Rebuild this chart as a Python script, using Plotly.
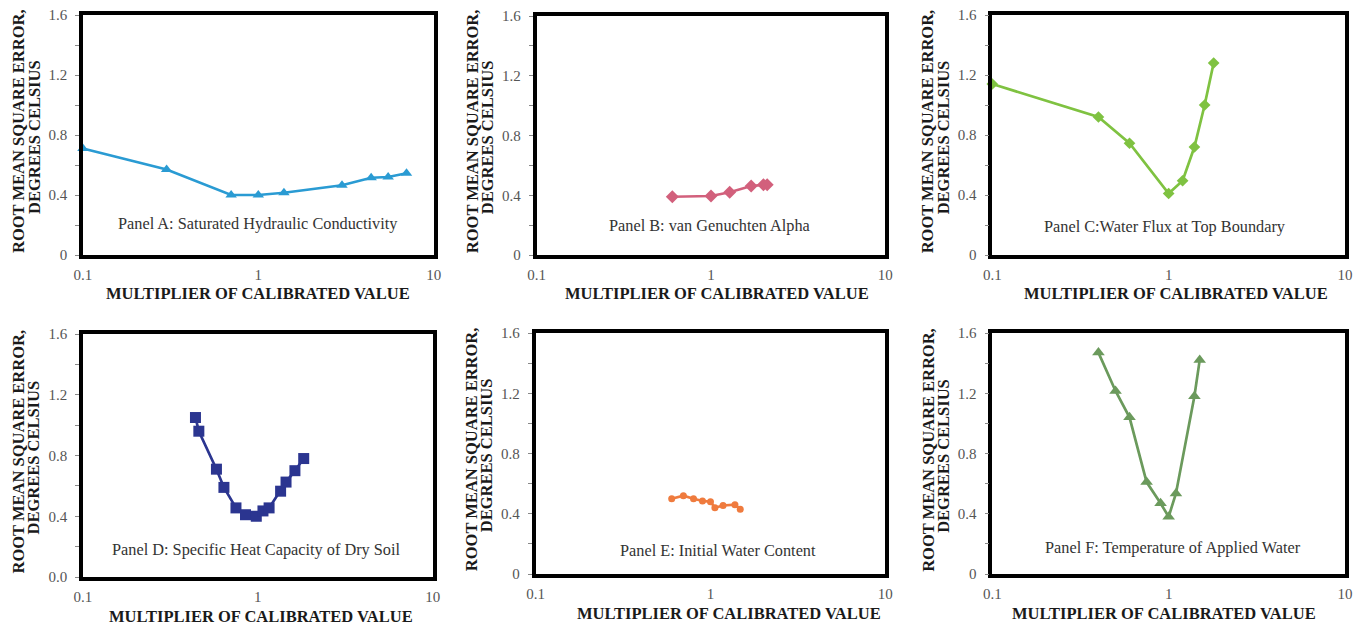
import plotly.graph_objects as go

W, H = 1362, 626
# the photographed page is shown inside an 8 px inset; positions below are
# given in picture pixels and converted to paper fractions with fx / fy
INSET = 8
VW, VH = W - 2 * INSET, H - 2 * INSET

# ---- data ----
a_x = [0.1, 0.3, 0.7, 1.0, 1.4, 3.0, 4.4, 5.5, 7.0]
a_y = [0.71, 0.57, 0.40, 0.40, 0.415, 0.465, 0.515, 0.52, 0.545]

b_x = [0.6, 1.0, 1.28, 1.7, 2.0, 2.1]
b_y = [0.39, 0.395, 0.42, 0.462, 0.47, 0.47]

c_x = [0.1, 0.4, 0.6, 1.0, 1.2, 1.4, 1.6, 1.8]
c_y = [1.14, 0.92, 0.745, 0.41, 0.495, 0.72, 1.0, 1.28]

d_x = [0.44, 0.46, 0.58, 0.64, 0.75, 0.85, 0.98, 1.07, 1.16, 1.35, 1.45, 1.63, 1.83]
d_y = [1.05, 0.96, 0.71, 0.59, 0.455, 0.41, 0.40, 0.435, 0.455, 0.565, 0.625, 0.70, 0.78]

e_x = [0.6, 0.7, 0.8, 0.9, 1.0, 1.06, 1.18, 1.38, 1.48]
e_y = [0.50, 0.52, 0.50, 0.485, 0.48, 0.44, 0.455, 0.46, 0.43]

f_x = [0.4, 0.5, 0.6, 0.75, 0.9, 1.0, 1.1, 1.4, 1.5]
f_y = [1.47, 1.215, 1.04, 0.61, 0.47, 0.38, 0.535, 1.18, 1.42]

panel_labels = [
    "Panel A: Saturated Hydraulic Conductivity",
    "Panel B: van Genuchten Alpha",
    "Panel C:Water Flux at Top Boundary",
    "Panel D: Specific Heat Capacity of Dry Soil",
    "Panel E: Initial Water Content",
    "Panel F: Temperature of Applied Water",
]
x_title = "MULTIPLIER OF CALIBRATED VALUE"
y_title_1 = "ROOT MEAN SQUARE ERROR,"
y_title_2 = "DEGREES CELSIUS"
x_ticks = [0.1, 1, 10]
x_ticktext = ["0.1", "1", "10"]
y_ticks = [0, 0.2, 0.4, 0.6, 0.8, 1.0, 1.2, 1.4, 1.6]
y_ticktext = ["0", "", "0.4", "", "0.8", "", "1.2", "", "1.6"]
y_ticktext_d = ["0.0", "", "0.4", "", "0.8", "", "1.2", "", "1.6"]

# ---- styles ----
series = [
    (a_x, a_y, "#2a9bd3", "triangle-up", 10),
    (b_x, b_y, "#d2607c", "diamond", 10),
    (c_x, c_y, "#7fc241", "diamond", 9),
    (d_x, d_y, "#2b3590", "square", 11),
    (e_x, e_y, "#ef7b3e", "circle", 7),
    (f_x, f_y, "#6b9a5c", "triangle-up", 11),
]

# plot-area boxes in picture pixels: (left, right, top, bottom)
boxes = [
    (82, 433, 15, 255),
    (536, 885, 16, 255),
    (992, 1345, 15, 255),
    (82, 432, 334, 577),
    (535, 885, 333, 574),
    (992, 1345, 333, 574),
]
label_pos = [(257, 223), (709, 225), (1165, 226), (255, 549), (718, 550), (1173, 547)]
xtitle_x = [257, 717, 1176, 260, 729, 1164]


def fx(p):
    return (p - INSET) / VW


def fy(p):
    return 1 - (p - INSET) / VH


serif = "Liberation Serif, Times New Roman, serif"

fig = go.Figure()
annotations = []
layout = {}

for i, ((xs, ys, col, sym, msz), (l, r, t, b)) in enumerate(zip(series, boxes)):
    n = "" if i == 0 else str(i + 1)
    xa, ya = "x" + n, "y" + n
    fig.add_trace(go.Scatter(
        x=xs, y=ys, xaxis=xa, yaxis=ya, mode="lines+markers",
        line=dict(color=col, width=2.7),
        marker=dict(symbol=sym, size=msz, color=col),
        cliponaxis=False, showlegend=False,
    ))
    layout["xaxis" + n] = dict(
        domain=[fx(l), fx(r)], anchor=ya, type="log", range=[-1, 1],
        tickvals=x_ticks, ticktext=x_ticktext, ticks="",
        ticklabelstandoff=3,
        showgrid=False, zeroline=False,
        showline=True, mirror=True, linecolor="black", linewidth=3.5,
        tickfont=dict(family=serif, size=15, color="#555555"),
    )
    layout["yaxis" + n] = dict(
        domain=[fy(b), fy(t)], anchor=xa, range=[0, 1.6],
        tickvals=y_ticks, ticktext=(y_ticktext_d if i == 3 else y_ticktext),
        ticks="outside", ticklen=4, tickwidth=1, tickcolor="#888888",
        ticklabelstandoff=5,
        showgrid=False, zeroline=False,
        showline=True, mirror=True, linecolor="black", linewidth=3.5,
        tickfont=dict(family=serif, size=15, color="#555555"),
    )
    cy = (t + b) / 2
    annotations.append(dict(
        x=fx(xtitle_x[i]), y=fy(b + 39), xref="paper", yref="paper",
        text="<b>" + x_title + "</b>", showarrow=False,
        font=dict(family=serif, size=16.5, color="#1a1a1a"),
        xanchor="center", yanchor="middle",
    ))
    annotations.append(dict(
        x=fx(l - 64), y=fy(cy - 4), xref="paper", yref="paper",
        text="<b>" + y_title_1 + "</b>", showarrow=False, textangle=-90,
        font=dict(family=serif, size=16.5, color="#1a1a1a"),
        xanchor="center", yanchor="middle",
    ))
    annotations.append(dict(
        x=fx(l - 49), y=fy(cy + 2), xref="paper", yref="paper",
        text="<b>" + y_title_2 + "</b>", showarrow=False, textangle=-90,
        font=dict(family=serif, size=16.5, color="#1a1a1a"),
        xanchor="center", yanchor="middle",
    ))
    px, py = label_pos[i]
    annotations.append(dict(
        x=fx(px), y=fy(py), xref="paper", yref="paper",
        text=panel_labels[i], showarrow=False,
        font=dict(family=serif, size=16.3, color="#333333"),
        xanchor="center", yanchor="middle",
    ))

fig.update_layout(
    width=W, height=H, margin=dict(l=0, r=0, t=0, b=0),
    paper_bgcolor="white", plot_bgcolor="white",
    annotations=annotations, **layout,
)

fig.write_html(
    "out.html",
    config={"displayModeBar": False},
    post_script="document.body.style.margin='0';",
)
